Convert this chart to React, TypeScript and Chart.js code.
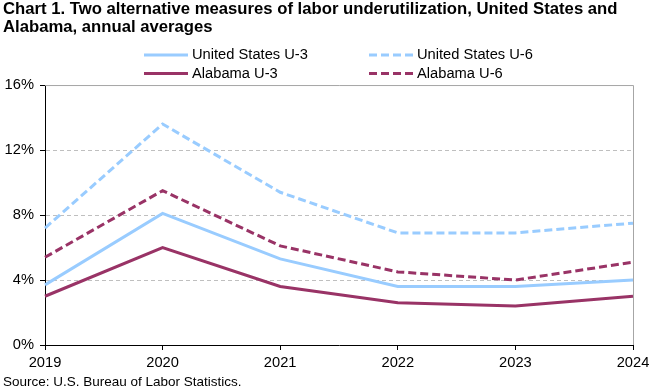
import React, { useEffect, useRef } from "react";
import { Chart, registerables } from "chart.js";

Chart.register(...registerables);

const years = ["2019", "2020", "2021", "2022", "2023", "2024"];
const usU3 = [3.7, 8.1, 5.3, 3.6, 3.6, 4.0];
const usU6 = [7.2, 13.6, 9.4, 6.9, 6.9, 7.5];
const alU3 = [3.0, 6.0, 3.6, 2.6, 2.4, 3.0];
const alU6 = [5.4, 9.5, 6.1, 4.5, 4.0, 5.1];

const titleLines = [
  "Chart 1. Two alternative measures of labor underutilization, United States and",
  "Alabama, annual averages",
];
const sourceText = "Source: U.S. Bureau of Labor Statistics.";

const LIGHT_BLUE = "#99CCFF";
const MAROON = "#993366";
const FONT = '"Liberation Sans", Arial, Helvetica, sans-serif';

const framePlugin = {
  id: "frame",
  beforeDatasetsDraw(chart: any) {
    const { ctx, chartArea } = chart;
    ctx.save();
    ctx.strokeStyle = "#A6A6A6";
    ctx.lineWidth = 1;
    ctx.beginPath();
    ctx.moveTo(chartArea.left, chartArea.top + 0.5);
    ctx.lineTo(chartArea.right + 0.5, chartArea.top + 0.5);
    ctx.lineTo(chartArea.right + 0.5, chartArea.bottom);
    ctx.stroke();
    ctx.restore();
  },
};

const legendPlugin = {
  id: "customLegend",
  afterDraw(chart: any) {
    const { ctx, chartArea } = chart;
    const cx = (chartArea.left + chartArea.right) / 2;
    const cols = [cx - 195, cx + 30];
    const rows = [chartArea.top - 30, chartArea.top - 11.5];
    chart.data.datasets.forEach((ds: any, i: number) => {
      const x = cols[i % 2];
      const y = rows[Math.floor(i / 2)];
      ctx.save();
      ctx.strokeStyle = ds.borderColor;
      ctx.lineWidth = ds.borderWidth;
      ctx.setLineDash(ds.borderDash || []);
      ctx.beginPath();
      ctx.moveTo(x, y);
      ctx.lineTo(x + 44, y);
      ctx.stroke();
      ctx.setLineDash([]);
      ctx.fillStyle = "#000";
      ctx.font = `14.7px ${FONT}`;
      ctx.textBaseline = "middle";
      ctx.textAlign = "left";
      ctx.fillText(ds.label, x + 48, y);
      ctx.restore();
    });
  },
};

export default function App() {
  const ref = useRef<HTMLCanvasElement | null>(null);

  useEffect(() => {
    if (!ref.current) return;
    Chart.defaults.font.family = FONT;
    Chart.defaults.color = "#000";
    const chart = new Chart(ref.current, {
      type: "line",
      data: {
        labels: years,
        datasets: [
          { label: "United States U-3", data: usU3, borderColor: LIGHT_BLUE, backgroundColor: LIGHT_BLUE, borderWidth: 3, borderDash: [] },
          { label: "United States U-6", data: usU6, borderColor: LIGHT_BLUE, backgroundColor: LIGHT_BLUE, borderWidth: 3, borderDash: [8, 4] },
          { label: "Alabama U-3", data: alU3, borderColor: MAROON, backgroundColor: MAROON, borderWidth: 3, borderDash: [] },
          { label: "Alabama U-6", data: alU6, borderColor: MAROON, backgroundColor: MAROON, borderWidth: 3, borderDash: [8, 4] },
        ],
      },
      options: {
        responsive: false,
        animation: false,
        layout: { padding: { left: 3, right: 27, top: 0, bottom: 0 } },
        elements: { point: { radius: 0, hoverRadius: 0 }, line: { tension: 0 } },
        plugins: {
          legend: { display: false },
          tooltip: { enabled: false },
          title: {
            display: true,
            text: titleLines,
            align: "start",
            color: "#000",
            font: { family: FONT, size: 16.7, weight: "bold", lineHeight: 1.1 },
            padding: { top: 0, bottom: 48.3 },
          },
          subtitle: {
            display: true,
            text: sourceText,
            position: "bottom",
            align: "start",
            color: "#000",
            font: { family: FONT, size: 13.5, lineHeight: 1.2 },
            padding: { top: 0, bottom: 0 },
          },
        },
        scales: {
          x: {
            type: "category",
            offset: false,
            grid: { drawOnChartArea: false, tickColor: "#000", tickLength: 5 },
            border: { display: true, color: "#000", width: 1 },
            ticks: { font: { size: 14.7 }, color: "#000", padding: 4, maxRotation: 0, autoSkip: false },
            afterFit: (scale: any) => {
              scale.height = 28.8;
            },
          },
          y: {
            min: 0,
            max: 16,
            grid: {
              color: (c: any) => (c.tick && (c.tick.value === 0 || c.tick.value === 16) ? "rgba(0,0,0,0)" : "#BFBFBF"),
              tickColor: "#000",
              tickLength: 5,
              lineWidth: 1,
            },
            border: { display: true, color: "#000", width: 1, dash: [4, 3] },
            ticks: {
              stepSize: 4,
              font: { size: 14.7 },
              color: "#000",
              padding: 6,
              callback: (v: any) => `${v}%`,
            },
            afterFit: (scale: any) => {
              scale.width = 42;
            },
          },
        },
      },
      plugins: [framePlugin, legendPlugin],
    } as any);
    return () => chart.destroy();
  }, []);

  return (
    <div style={{ position: "fixed", left: 0, top: 0, width: 660, height: 390, background: "#fff" }}>
      <canvas ref={ref} width={660} height={390} />
    </div>
  );
}
